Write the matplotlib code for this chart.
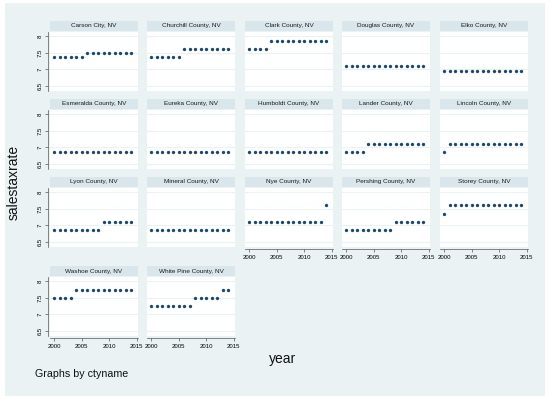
import matplotlib
matplotlib.use("Agg")
import matplotlib.pyplot as plt
from matplotlib.patches import Rectangle

plt.rcParams['font.family'] = ['Liberation Sans', 'DejaVu Sans']

years = [2000, 2001, 2002, 2003, 2004, 2005, 2006, 2007, 2008, 2009, 2010, 2011, 2012, 2013, 2014]

counties = ["Carson City, NV", "Churchill County, NV", "Clark County, NV", "Douglas County, NV",
            "Elko County, NV", "Esmeralda County, NV", "Eureka County, NV", "Humboldt County, NV",
            "Lander County, NV", "Lincoln County, NV", "Lyon County, NV", "Mineral County, NV",
            "Nye County, NV", "Pershing County, NV", "Storey County, NV", "Washoe County, NV",
            "White Pine County, NV"]

carson = [7.375, 7.375, 7.375, 7.375, 7.375, 7.375, 7.475, 7.475, 7.475, 7.475, 7.475, 7.475, 7.475, 7.475, 7.475]
churchill = [7.375, 7.375, 7.375, 7.375, 7.375, 7.375, 7.6, 7.6, 7.6, 7.6, 7.6, 7.6, 7.6, 7.6, 7.6]
clark = [7.6, 7.6, 7.6, 7.6, 7.85, 7.85, 7.85, 7.85, 7.85, 7.85, 7.85, 7.85, 7.85, 7.85, 7.85]
douglas = [7.1, 7.1, 7.1, 7.1, 7.1, 7.1, 7.1, 7.1, 7.1, 7.1, 7.1, 7.1, 7.1, 7.1, 7.1]
elko = [6.95, 6.95, 6.95, 6.95, 6.95, 6.95, 6.95, 6.95, 6.95, 6.95, 6.95, 6.95, 6.95, 6.95, 6.95]
esmeralda = [6.85, 6.85, 6.85, 6.85, 6.85, 6.85, 6.85, 6.85, 6.85, 6.85, 6.85, 6.85, 6.85, 6.85, 6.85]
eureka = [6.85, 6.85, 6.85, 6.85, 6.85, 6.85, 6.85, 6.85, 6.85, 6.85, 6.85, 6.85, 6.85, 6.85, 6.85]
humboldt = [6.85, 6.85, 6.85, 6.85, 6.85, 6.85, 6.85, 6.85, 6.85, 6.85, 6.85, 6.85, 6.85, 6.85, 6.85]
lander = [6.85, 6.85, 6.85, 6.85, 7.1, 7.1, 7.1, 7.1, 7.1, 7.1, 7.1, 7.1, 7.1, 7.1, 7.1]
lincoln = [6.85, 7.1, 7.1, 7.1, 7.1, 7.1, 7.1, 7.1, 7.1, 7.1, 7.1, 7.1, 7.1, 7.1, 7.1]
lyon = [6.85, 6.85, 6.85, 6.85, 6.85, 6.85, 6.85, 6.85, 6.85, 7.1, 7.1, 7.1, 7.1, 7.1, 7.1]
mineral = [6.85, 6.85, 6.85, 6.85, 6.85, 6.85, 6.85, 6.85, 6.85, 6.85, 6.85, 6.85, 6.85, 6.85, 6.85]
nye = [7.1, 7.1, 7.1, 7.1, 7.1, 7.1, 7.1, 7.1, 7.1, 7.1, 7.1, 7.1, 7.1, 7.1, 7.6]
pershing = [6.85, 6.85, 6.85, 6.85, 6.85, 6.85, 6.85, 6.85, 6.85, 7.1, 7.1, 7.1, 7.1, 7.1, 7.1]
storey = [7.35, 7.6, 7.6, 7.6, 7.6, 7.6, 7.6, 7.6, 7.6, 7.6, 7.6, 7.6, 7.6, 7.6, 7.6]
washoe = [7.5, 7.5, 7.5, 7.5, 7.725, 7.725, 7.725, 7.725, 7.725, 7.725, 7.725, 7.725, 7.725, 7.725, 7.725]
whitepine = [7.25, 7.25, 7.25, 7.25, 7.25, 7.25, 7.25, 7.25, 7.5, 7.5, 7.5, 7.5, 7.5, 7.725, 7.725]

series = [carson, churchill, clark, douglas, elko, esmeralda, eureka, humboldt,
          lander, lincoln, lyon, mineral, nye, pershing, storey, washoe, whitepine]

y_ticks = [6.5, 7, 7.5, 8]
y_ticklabels = ["6.5", "7", "7.5", "8"]
x_ticks = [2000, 2005, 2010, 2015]
x_ticklabels = ["2000", "2005", "2010", "2015"]

W, H = 550, 399
BG = "#EAF2F3"
STRIP = "#D9E6EB"
DOT = "#1A476F"

fig = plt.figure(figsize=(W / 100, H / 100), dpi=100)
fig.patch.set_facecolor("white")
fig.patches.append(Rectangle((5 / W, 1 - 396 / H), 540 / W, 393 / H,
                             transform=fig.transFigure, facecolor=BG, edgecolor="none", zorder=-5))

col_left = [50, 147, 245, 342, 440]
panel_w = 88
row_top = [32, 110, 188, 277]
panel_h = 59
strip_h = 10

ncols = 5
n = len(series)
for i, (name, vals) in enumerate(zip(counties, series)):
    r, c = divmod(i, ncols)
    x0 = col_left[c]
    y0 = row_top[r]
    ax = fig.add_axes([x0 / W, 1 - (y0 + panel_h) / H, panel_w / W, panel_h / H])
    ax.set_zorder(5)
    ax.set_facecolor("white")
    ax.set_xlim(1999.2, 2015.25)
    ax.set_ylim(6.35, 8.12)
    for yv in y_ticks:
        ax.axhline(yv, color=BG, lw=0.8, zorder=1)
    ax.plot(years, vals, linestyle="none", marker="o", markersize=2.4,
            color=DOT, markeredgewidth=0, zorder=3)
    for s in ax.spines.values():
        s.set_visible(False)
    # strip title
    fig.patches.append(Rectangle((x0 / W, 1 - (y0 - 1) / H), panel_w / W, strip_h / H,
                                 transform=fig.transFigure, facecolor=STRIP, edgecolor="none", zorder=-1))
    fig.text((x0 + panel_w / 2) / W, 1 - (y0 - 1 - strip_h / 2) / H, name,
             ha="center", va="center", fontsize=4.6, color="#1a1a1a")
    if c == 0:
        ax.spines["left"].set_visible(True)
        ax.spines["left"].set_color("#555555")
        ax.spines["left"].set_linewidth(0.5)
        ax.spines["left"].set_position(("outward", 1.5))
        ax.set_yticks(y_ticks)
        ax.set_yticklabels(y_ticklabels, rotation=90, va="center", fontsize=4.3)
        ax.tick_params(axis="y", length=2.5, width=0.5, color="#555555", pad=1.5)
    else:
        ax.set_yticks([])
    if i + ncols >= n:
        ax.spines["bottom"].set_visible(True)
        ax.spines["bottom"].set_color("#555555")
        ax.spines["bottom"].set_linewidth(0.5)
        ax.spines["bottom"].set_position(("outward", 1.5))
        ax.set_xticks(x_ticks)
        ax.set_xticklabels(x_ticklabels, fontsize=4.3)
        ax.tick_params(axis="x", length=2.5, width=0.5, color="#555555", pad=1.5)
    else:
        ax.set_xticks([])

fig.text(14 / W, 1 - 182 / H, "salestaxrate", rotation=90, ha="center", va="center", fontsize=10, color="#111111")
fig.text(283 / W, 1 - 359 / H, "year", ha="center", va="center", fontsize=10, color="#111111")
fig.text(35 / W, 1 - 374 / H, "Graphs by ctyname", ha="left", va="center", fontsize=7.7, color="#111111")

fig.savefig("out.png", dpi=100, facecolor=fig.get_facecolor())
